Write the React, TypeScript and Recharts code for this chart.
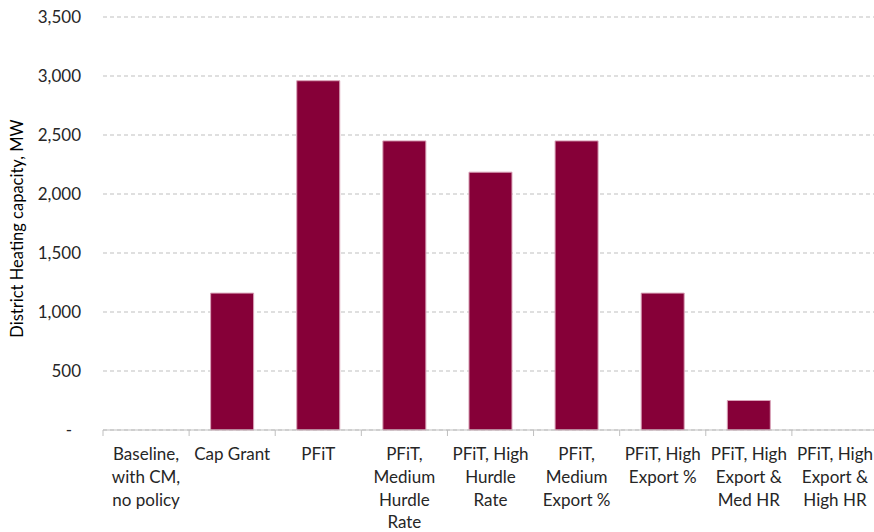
import React from 'react';
import { BarChart, Bar, XAxis, YAxis, CartesianGrid } from 'recharts';

const scenarios = [
  'Baseline, with CM, no policy',
  'Cap Grant',
  'PFiT',
  'PFiT, Medium Hurdle Rate',
  'PFiT, High Hurdle Rate',
  'PFiT, Medium Export %',
  'PFiT, High Export %',
  'PFiT, High Export & Med HR',
  'PFiT, High Export & High HR',
];

// how each label wraps in the original
const scenarioLines = [
  ['Baseline,', 'with CM,', 'no policy'],
  ['Cap Grant'],
  ['PFiT'],
  ['PFiT,', 'Medium', 'Hurdle', 'Rate'],
  ['PFiT, High', 'Hurdle', 'Rate'],
  ['PFiT,', 'Medium', 'Export %'],
  ['PFiT, High', 'Export %'],
  ['PFiT, High', 'Export &', 'Med HR'],
  ['PFiT, High', 'Export &', 'High HR'],
];

const capacityMW = [0, 1160, 2960, 2450, 2185, 2450, 1160, 250, 0];

const yTicks = [0, 500, 1000, 1500, 2000, 2500, 3000, 3500];

const data = scenarios.map((name, i) => ({ name, idx: i, capacity: capacityMW[i] }));

const FONT = 'Lato, "Open Sans", sans-serif';
const TEXT = '#262626';
const AXIS = '#bfbfbf';

const XTick = (props: any) => {
  const { x, y, payload, index, visibleTicksCount } = props;
  const half = payload && payload.offset ? payload.offset : 864 / 9 / 2;
  const lines = scenarioLines[index] || [payload.value];
  const last = index === (visibleTicksCount || scenarios.length) - 1;
  return (
    <g>
      <line x1={x - half} x2={x - half} y1={y} y2={y + 6} stroke={AXIS} />
      {last && <line x1={x + half} x2={x + half} y1={y} y2={y + 6} stroke={AXIS} />}
      <text textAnchor="middle" fontFamily={FONT} fontSize={17} fill={TEXT}>
        {lines.map((l: string, i: number) => (
          <tspan key={i} x={x} y={y + 30 + i * 22.8}>
            {l}
          </tspan>
        ))}
      </text>
    </g>
  );
};

const YTick = (props: any) => {
  const { x, y, payload } = props;
  const v = payload.value;
  return (
    <text
      x={v === 0 ? x - 9 : x}
      y={y}
      dy="0.36em"
      textAnchor="end"
      fontFamily={FONT}
      fontSize={17}
      fill={TEXT}
    >
      {v === 0 ? '-' : v.toLocaleString('en-US')}
    </text>
  );
};

export default function App() {
  return (
    <div style={{ position: 'absolute', left: 0, top: 0, width: 874, height: 532, overflow: 'hidden', background: '#fff' }}>
      <BarChart
        width={880}
        height={532}
        data={data}
        margin={{ top: 17, right: 2, left: 0, bottom: 0 }}
        barCategoryGap="25%"
      >
        <CartesianGrid vertical={false} stroke={AXIS} strokeDasharray="4 3" />
        <XAxis
          dataKey="name"
          height={102}
          axisLine={{ stroke: AXIS }}
          tickLine={false}
          tickSize={0}
          tickMargin={0}
          interval={0}
          tick={<XTick />}
        />
        <YAxis
          width={103}
          domain={[0, 3500]}
          ticks={yTicks}
          axisLine={false}
          tickLine={false}
          tickSize={0}
          tickMargin={22}
          tick={<YTick />}
          label={{
            value: 'District Heating capacity, MW',
            angle: -90,
            position: 'insideLeft',
            offset: 0,
            dx: 17,
            dy: 5,
            style: { fontFamily: FONT, fontSize: 16.5, fill: '#000', textAnchor: 'middle' },
          }}
        />
        <Bar dataKey="capacity" fill="#860038" stroke="#d9a3b8" strokeWidth={1} isAnimationActive={false} />
      </BarChart>
    </div>
  );
}
